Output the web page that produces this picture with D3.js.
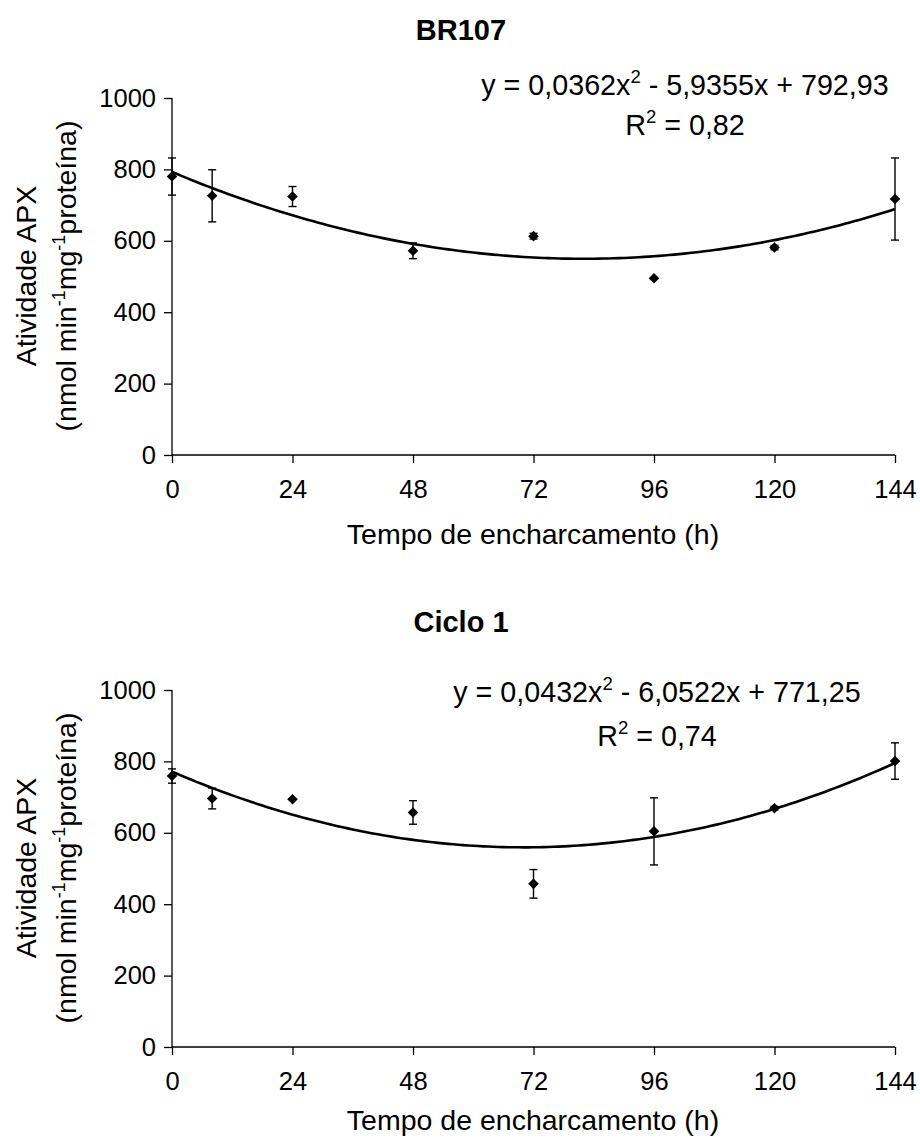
<!DOCTYPE html>
<html lang="en">
  <head>
    <meta charset="utf-8">
    <title>Atividade APX</title>
    <script src="https://d3js.org/d3.v7.min.js"></script>
    <style>
      body { margin: 0; background: #fff; }
      text { font-family: "Liberation Sans", Arial, sans-serif; fill: #000; }
    </style>
  </head>
  <body>
    <div id="chart"></div>
    <script>

// Data
var hours = [0, 8, 24, 48, 72, 96, 120, 144];

var br107Mean = [780, 726, 724, 572, 613, 495, 581, 717];
var br107Err  = [52, 73, 28, 22, 8, 0, 6, 115];
var br107Coef = [0.0362, -5.9355, 792.93];   // a, b, c of the trendline
var br107Eq = ["y = 0,0362x", "2", " - 5,9355x + 792,93"];
var br107R2 = "0,82";

var ciclo1Mean = [759, 696, 694, 657, 457, 604, 669, 801];
var ciclo1Err  = [20, 29, 0, 33, 40, 94, 5, 51];
var ciclo1Coef = [0.0432, -6.0522, 771.25];
var ciclo1Eq = ["y = 0,0432x", "2", " - 6,0522x + 771,25"];
var ciclo1R2 = "0,74";

var xTicks = [0, 24, 48, 72, 96, 120, 144];
var yTicks = [0, 200, 400, 600, 800, 1000];

var w = 920;
var h = 1143;

var svg = d3.select("#chart")
  .append("svg")
    .attr("width", w)
    .attr("height", h);

var xScale = d3.scaleLinear()
    .domain([0, 144])
    .range([172, 895]);

function drawPanel(p) {

  var yScale = d3.scaleLinear()
      .domain([0, 1000])
      .range([p.top + 357, p.top]);

  var g = svg.append("g");

  // title
  g.append("text")
    .attr("x", 461)
    .attr("y", p.titleY)
    .attr("text-anchor", "middle")
    .style("font-size", "29px")
    .style("font-weight", "bold")
    .text(p.title);

  // axes
  var yAxis = d3.axisLeft(yScale).tickValues(yTicks).tickFormat(d3.format("d"))
    .tickSize(8).tickPadding(8);
  var xAxis = d3.axisBottom(xScale).tickValues(xTicks).tickFormat(d3.format("d"))
    .tickSize(8).tickPadding(17);

  var ya = g.append("g")
    .attr("transform", `translate(${xScale(0)},0)`)
    .call(yAxis);
  var xa = g.append("g")
    .attr("transform", `translate(0,${yScale(0)})`)
    .call(xAxis);

  [ya, xa].forEach(function(a) {
    a.select(".domain").attr("stroke", "#000").attr("stroke-width", 1.3);
    a.selectAll(".tick line").attr("stroke", "#000").attr("stroke-width", 1.3);
    a.selectAll(".tick text")
      .style("font-family", '"Liberation Sans", Arial, sans-serif')
      .style("font-size", "25.5px")
      .attr("fill", "#000");
  });
  // d3 draws the outer ticks on the domain path, remove them
  ya.select(".domain").attr("d", `M0,${yScale(1000)}V${yScale(0)}`);
  xa.select(".domain").attr("d", `M${xScale(0)},0H${xScale(144)}`);

  // x axis title
  g.append("text")
    .attr("x", 533)
    .attr("y", yScale(0) + p.xTitleGap)
    .attr("text-anchor", "middle")
    .style("font-size", "28.5px")
    .text("Tempo de encharcamento (h)");

  // y axis title, two lines
  var yt = g.append("text")
    .attr("transform", `translate(36,${p.top + 178}) rotate(-90)`)
    .attr("text-anchor", "middle")
    .style("font-size", "28.5px");
  yt.append("tspan").attr("x", 0).attr("y", 0).text("Atividade APX");
  var l2 = g.append("text")
    .attr("transform", `translate(76,${p.top + 178}) rotate(-90)`)
    .attr("text-anchor", "middle")
    .style("font-size", "28.5px");
  l2.append("tspan").text("(nmol min");
  l2.append("tspan").attr("dy", -11).style("font-size", "18px").text("-1");
  l2.append("tspan").attr("dy", 11).text("mg");
  l2.append("tspan").attr("dy", -11).style("font-size", "18px").text("-1");
  l2.append("tspan").attr("dy", 11).text("proteína)");

  // trendline
  var c = p.coef;
  var xs = d3.range(0, 144.5, 1);
  var line = d3.line()
    .x(d => xScale(d))
    .y(d => yScale(c[0] * d * d + c[1] * d + c[2]));
  g.append("path")
    .datum(xs)
    .attr("d", line)
    .attr("fill", "none")
    .attr("stroke", "#000")
    .attr("stroke-width", 2.6);

  // error bars
  var pts = hours.map((x, i) => ({x: x, y: p.mean[i], e: p.err[i]}));
  var eb = g.append("g")
    .selectAll("g")
    .data(pts.filter(d => d.e > 0))
    .enter()
    .append("g")
    .attr("stroke", "#000")
    .attr("stroke-width", 1.4);
  eb.append("line")
    .attr("x1", d => xScale(d.x)).attr("x2", d => xScale(d.x))
    .attr("y1", d => yScale(d.y + d.e)).attr("y2", d => yScale(d.y - d.e));
  eb.append("line")
    .attr("x1", d => xScale(d.x) - 4).attr("x2", d => xScale(d.x) + 4)
    .attr("y1", d => yScale(d.y + d.e)).attr("y2", d => yScale(d.y + d.e));
  eb.append("line")
    .attr("x1", d => xScale(d.x) - 4).attr("x2", d => xScale(d.x) + 4)
    .attr("y1", d => yScale(d.y - d.e)).attr("y2", d => yScale(d.y - d.e));

  // diamond markers
  g.append("g")
    .selectAll("path")
    .data(pts)
    .enter()
    .append("path")
    .attr("d", d3.symbol().type(d3.symbolSquare).size(56))
    .attr("transform", d => `translate(${xScale(d.x)},${yScale(d.y)}) rotate(45)`)
    .attr("fill", "#000");

  // equation and R2
  var eq = g.append("text")
    .attr("x", p.eqX)
    .attr("y", p.eqY)
    .attr("text-anchor", "middle")
    .style("font-size", "28.7px");
  eq.append("tspan").text(p.eq[0]);
  eq.append("tspan").attr("dy", -12).style("font-size", "18.5px").text(p.eq[1]);
  eq.append("tspan").attr("dy", 12).text(p.eq[2]);

  var r2 = g.append("text")
    .attr("x", p.eqX)
    .attr("y", p.eqY + p.r2Gap)
    .attr("text-anchor", "middle")
    .style("font-size", "28.7px");
  r2.append("tspan").text("R");
  r2.append("tspan").attr("dy", -12).style("font-size", "18.5px").text("2");
  r2.append("tspan").attr("dy", 12).text(" = " + p.r2);
}

drawPanel({title: "BR107", titleY: 40, top: 98, mean: br107Mean, err: br107Err,
  coef: br107Coef, eq: br107Eq, r2: br107R2, eqX: 685, eqY: 95, r2Gap: 40, xTitleGap: 89});

drawPanel({title: "Ciclo 1", titleY: 632, top: 690, mean: ciclo1Mean, err: ciclo1Err,
  coef: ciclo1Coef, eq: ciclo1Eq, r2: ciclo1R2, eqX: 657, eqY: 702, r2Gap: 44, xTitleGap: 83});

    </script>
  </body>
</html>
